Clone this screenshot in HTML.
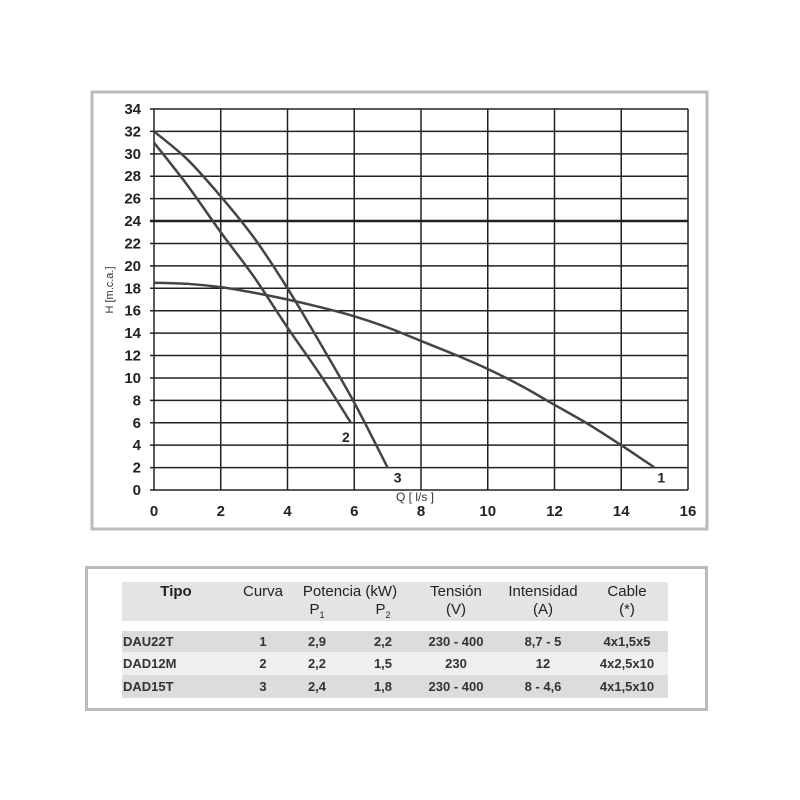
<!DOCTYPE html>
<html><head><meta charset="utf-8"><style>
body{margin:0;background:#fff;width:800px;height:800px;position:relative;font-family:"Liberation Sans",Arial,sans-serif;overflow:hidden}
.t{position:absolute;font-size:13px;color:#333;text-align:center;font-weight:bold}
.h{font-weight:normal;color:#222}
</style></head><body>
<svg id="chart" width="800" height="560" style="position:absolute;left:0;top:0" font-family="Liberation Sans, Arial, sans-serif">
<rect x="92" y="92" width="615" height="437" fill="#fff" stroke="#bbb" stroke-width="3"/>
<g id="grid"></g><g id="curves"></g><g id="labels"></g>
<text transform="translate(113,290) rotate(-90)" text-anchor="middle" font-size="11" fill="#333">H [m.c.a.]</text>
<text x="415" y="501" text-anchor="middle" font-size="12" fill="#333">Q [ l/s ]</text>
</svg>
<script>
const xTicks=[0,2,4,6,8,10,12,14,16];
const yTicks=[0,2,4,6,8,10,12,14,16,18,20,22,24,26,28,30,32,34];
const curve1Q=[0,1,2,3,4,5,6,7,8,9,10,11,12,13,14,15];
const curve1H=[18.5,18.4,18.1,17.6,17,16.3,15.5,14.5,13.3,12.1,10.8,9.3,7.6,5.9,4,2];
const curve2Q=[0,1,2,3,4,5,5.9];
const curve2H=[31,27.2,23,19,14.5,10.2,6];
const curve3Q=[0,1,2,3,4,5,6,7];
const curve3H=[32,29.5,26.2,22.5,18,13,7.8,2];
const curveLabels=["1","2","3"];
const labelQ=[15.2,5.75,7.3];
const labelH=[1.2,4.8,1.2];
const NS="http://www.w3.org/2000/svg";
const sx=q=>154+q*(688-154)/16;
const sy=h=>490-h*(490-109)/34;
const grid=document.getElementById('grid');
function mk(tag,attrs,parent){const e=document.createElementNS(NS,tag);for(const k in attrs)e.setAttribute(k,attrs[k]);parent.appendChild(e);return e;}
xTicks.forEach(v=>{
 const l=mk('line',{x1:sx(v),x2:sx(v),y1:sy(0),y2:sy(34),stroke:'#222','stroke-width':1.5},grid);
 
 
 const t=mk('text',{x:sx(v),y:516,'text-anchor':'middle','font-size':15,'font-weight':'bold',fill:'#222'},grid);
 t.textContent=v;
 
 
});
yTicks.forEach(v=>{
 const l=mk('line',{x1:sx(0)-4,x2:sx(16),y1:sy(v),y2:sy(v),stroke:'#222','stroke-width':v===24?2.5:1.5},grid);
 
 
 const t=mk('text',{x:141,y:sy(v)+5,'text-anchor':'end','font-size':15,'font-weight':'bold',fill:'#222'},grid);
 t.textContent=v;
 
 
});
const cg=document.getElementById('curves');
[[curve1Q,curve1H,'curve-1'],[curve2Q,curve2H,'curve-2'],[curve3Q,curve3H,'curve-3']].forEach(([Q,H,n])=>{
 const pts=Q.map((q,i)=>[sx(q),sy(H[i])]);
 let d='M'+pts[0].join(',');
 for(let i=0;i<pts.length-1;i++){
  const p0=pts[i-1]||pts[i],p1=pts[i],p2=pts[i+1],p3=pts[i+2]||p2;
  d+=' C'+(p1[0]+(p2[0]-p0[0])/6)+','+(p1[1]+(p2[1]-p0[1])/6)+' '+(p2[0]-(p3[0]-p1[0])/6)+','+(p2[1]-(p3[1]-p1[1])/6)+' '+p2[0]+','+p2[1];
 }
 const p=mk('path',{d:d,fill:'none',stroke:'#444','stroke-width':2.5},cg);
 
 
});
const lg=document.getElementById('labels');
curveLabels.forEach((s,i)=>{
 const t=mk('text',{x:sx(labelQ[i]),y:sy(labelH[i])+6,'text-anchor':'middle','font-size':14,'font-weight':'bold',fill:'#222'},lg);
 t.textContent=s;
 
 
});
</script>
<div style="position:absolute;left:85px;top:566px;width:617px;height:139px;border:3px solid #bbb;background:#fff"></div>
<div style="position:absolute;left:122px;top:582px;width:546px;height:39px;background:#e4e4e4"></div>
<div style="position:absolute;left:122px;top:631px;width:546px;height:21px;background:#dcdcdc"></div>
<div style="position:absolute;left:122px;top:652px;width:546px;height:23px;background:#efefef"></div>
<div style="position:absolute;left:122px;top:675px;width:546px;height:23px;background:#dcdcdc"></div>
<div style="font-size:15px">
<div class="t h" style="left:136px;top:583px;width:80px;font-size:15px;font-weight:bold">Tipo</div>
<div class="t h" style="left:233px;top:583px;width:60px;font-size:15px">Curva</div>
<div class="t h" style="left:290px;top:583px;width:120px;font-size:15px">Potencia (kW)</div>
<div class="t h" style="left:297px;top:601px;width:40px;font-size:15px">P<sub style="font-size:9px">1</sub></div>
<div class="t h" style="left:363px;top:601px;width:40px;font-size:15px">P<sub style="font-size:9px">2</sub></div>
<div class="t h" style="left:416px;top:583px;width:80px;font-size:15px">Tensión</div>
<div class="t h" style="left:416px;top:601px;width:80px;font-size:15px">(V)</div>
<div class="t h" style="left:493px;top:583px;width:100px;font-size:15px">Intensidad</div>
<div class="t h" style="left:493px;top:601px;width:100px;font-size:15px">(A)</div>
<div class="t h" style="left:587px;top:583px;width:80px;font-size:15px">Cable</div>
<div class="t h" style="left:587px;top:601px;width:80px;font-size:15px">(*)</div>
</div>
<div style="font-size:13px">
<div class="t" style="left:123px;top:634px;text-align:left">DAU22T</div><div class="t" style="left:243px;top:634px;width:40px">1</div><div class="t" style="left:297px;top:634px;width:40px">2,9</div><div class="t" style="left:363px;top:634px;width:40px">2,2</div><div class="t" style="left:416px;top:634px;width:80px">230 - 400</div><div class="t" style="left:493px;top:634px;width:100px">8,7 - 5</div><div class="t" style="left:582px;top:634px;width:90px">4x1,5x5</div>
<div class="t" style="left:123px;top:656px;text-align:left">DAD12M</div><div class="t" style="left:243px;top:656px;width:40px">2</div><div class="t" style="left:297px;top:656px;width:40px">2,2</div><div class="t" style="left:363px;top:656px;width:40px">1,5</div><div class="t" style="left:416px;top:656px;width:80px">230</div><div class="t" style="left:493px;top:656px;width:100px">12</div><div class="t" style="left:582px;top:656px;width:90px">4x2,5x10</div>
<div class="t" style="left:123px;top:679px;text-align:left">DAD15T</div><div class="t" style="left:243px;top:679px;width:40px">3</div><div class="t" style="left:297px;top:679px;width:40px">2,4</div><div class="t" style="left:363px;top:679px;width:40px">1,8</div><div class="t" style="left:416px;top:679px;width:80px">230 - 400</div><div class="t" style="left:493px;top:679px;width:100px">8 - 4,6</div><div class="t" style="left:582px;top:679px;width:90px">4x1,5x10</div>
</div>
</body></html>
